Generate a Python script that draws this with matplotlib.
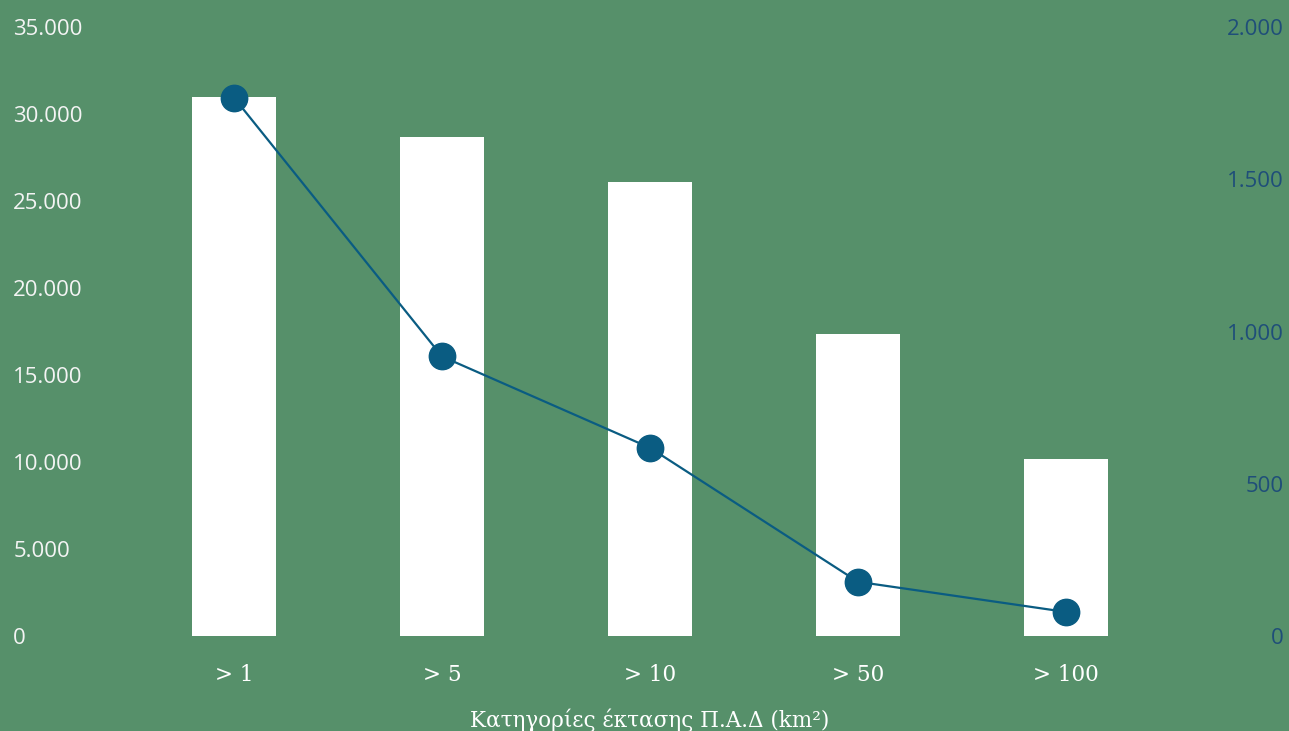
import matplotlib
matplotlib.use("Agg")
import matplotlib.pyplot as plt
import numpy as np

# ___CONSTANTS___ #
BG_COLOR = '#56906A'
BAR_COLOR = '#FFFFFF'
LINE_COLOR = '#0A5C82'
RIGHT_TICK_COLOR = '#1F4E79'
LEFT_TICK_COLOR = '#F4F4F4'
TICK_FONT = ['Open Sans', 'DejaVu Sans']
CAT_FONT = ['DejaVu Serif']

# Data
categories = ['> 1', '> 5', '> 10', '> 50', '> 100']
area_values = [30950, 28700, 26100, 17350, 10150]   # bars, left axis
count_values = [1768, 918, 618, 178, 79]            # line, right axis
left_ticks = [0, 5000, 10000, 15000, 20000, 25000, 30000, 35000]
right_ticks = [0, 500, 1000, 1500, 2000]


def fmt(v):
    # greek thousands separator
    return f'{v:,}'.replace(',', '.')


def main():
    fig = plt.figure(figsize=(12.89, 7.31), dpi=100, facecolor=BG_COLOR)
    ax = fig.add_axes([130 / 1289, 95 / 731, 1040 / 1289, 609 / 731])
    ax.set_facecolor(BG_COLOR)

    x = np.arange(len(categories))
    ax.bar(x, area_values, width=0.4, color=BAR_COLOR, zorder=2)
    ax.set_xlim(-0.5, len(categories) - 0.5)
    ax.set_ylim(0, 35000)
    ax.set_yticks(left_ticks)
    ax.set_yticklabels([fmt(v) for v in left_ticks])

    ax2 = ax.twinx()
    ax2.plot(x, count_values, color=LINE_COLOR, lw=1.6, marker='o',
             markersize=19, zorder=3)
    ax2.set_ylim(0, 2000)
    ax2.set_yticks(right_ticks)
    ax2.set_yticklabels([fmt(v) for v in right_ticks])

    for a in (ax, ax2):
        for s in a.spines.values():
            s.set_visible(False)
        a.tick_params(length=0)

    ax.tick_params(axis='y', pad=84, labelcolor=LEFT_TICK_COLOR)
    for lbl in ax.get_yticklabels():
        lbl.set_horizontalalignment('left')
        lbl.set_fontfamily(TICK_FONT)
        lbl.set_fontsize(16)
    ax2.tick_params(axis='y', pad=82, labelcolor=RIGHT_TICK_COLOR)
    for lbl in ax2.get_yticklabels():
        lbl.set_horizontalalignment('right')
        lbl.set_fontfamily(TICK_FONT)
        lbl.set_fontsize(16)

    ax.set_xticks(x)
    ax.set_xticklabels(categories, fontfamily=CAT_FONT, fontsize=15.5,
                       color='white')
    ax.tick_params(axis='x', pad=20)
    ax.set_xlabel('Κατηγορίες έκτασης Π.Α.Δ (km²)', fontfamily=CAT_FONT,
                  fontsize=15.5, color='white', labelpad=16)

    fig.savefig('out.png', dpi=100, facecolor=BG_COLOR)


if __name__ == '__main__':
    main()
